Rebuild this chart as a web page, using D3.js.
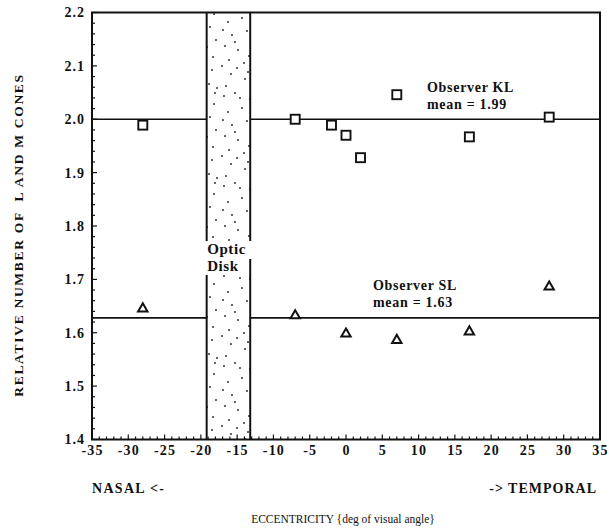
<!DOCTYPE html>
<html><head><meta charset="utf-8">
<script src="https://cdn.jsdelivr.net/npm/d3@7"></script>
<style>
html,body{margin:0;padding:0;background:#fff;}
text{font-family:"Liberation Serif","Times New Roman",serif;font-weight:bold;fill:#111;}
</style></head>
<body><svg id="chart" width="609" height="528"></svg>
<script>
// ---- data ----
const klX = [-28, -7, -2, 0, 2, 7, 17, 28];
const klY = [1.989, 2.0, 1.989, 1.97, 1.928, 2.046, 1.967, 2.004];
const slX = [-28, -7, 0, 7, 17, 28];
const slY = [1.645, 1.632, 1.598, 1.586, 1.602, 1.686];
const klMean = 2.0;
const slMean = 1.628;
const opticDisk = [-19.2, -13.2];
const xTicks = [-35, -30, -25, -20, -15, -10, -5, 0, 5, 10, 15, 20, 25, 30, 35];
const yTicks = [1.4, 1.5, 1.6, 1.7, 1.8, 1.9, 2.0, 2.1, 2.2];

const svg = d3.select("#chart");
const L = 92, R = 600, T = 12.5, B = 439.5;
const x = d3.scaleLinear().domain([-35, 35]).range([L, R]);
const y = d3.scaleLinear().domain([1.4, 2.2]).range([B, T]);

// optic disk stipple pattern (fixed texture)
const defs = svg.append("defs");
const pat = defs.append("pattern").attr("id", "stip").attr("patternUnits", "userSpaceOnUse")
  .attr("width", 44).attr("height", 90);
const dots = [[4,6],[15,3],[30,9],[38,14],[8,22],[22,18],[34,27],[12,35],[27,31],[40,40],
  [5,46],[18,50],[31,47],[9,60],[24,63],[37,57],[15,42],[29,56],[3,30],[20,8],
  [36,70],[11,74],[25,79],[6,86],[33,84],[17,68],[41,88],[28,72],[2,66],[39,3]];
dots.forEach(d => pat.append("circle").attr("cx", d[0]).attr("cy", d[1]).attr("r", 0.95).attr("fill", "#222"));

const gapTop = 241, gapBot = 275;
const ox0 = x(opticDisk[0]), ox1 = x(opticDisk[1]);
svg.append("rect").attr("x", ox0).attr("y", T).attr("width", ox1 - ox0).attr("height", gapTop - T).attr("fill", "url(#stip)");
svg.append("rect").attr("x", ox0).attr("y", gapBot).attr("width", ox1 - ox0).attr("height", B - gapBot).attr("fill", "url(#stip)");

const line = (x1, y1, x2, y2, w) => svg.append("line").attr("x1", x1).attr("y1", y1).attr("x2", x2).attr("y2", y2)
  .attr("stroke", "#111").attr("stroke-width", w || 1.6);
line(ox0, T, ox0, gapTop, 2);
line(ox0, gapBot, ox0, B, 2);
line(ox1, T, ox1, gapTop, 2);
line(ox1, 259, ox1, B, 2);

// mean lines
[klMean, slMean].forEach(m => {
  line(L, y(m), ox0, y(m), 1.7);
  line(ox1, y(m), R, y(m), 1.7);
});

// frame
svg.append("rect").attr("x", L).attr("y", T).attr("width", R - L).attr("height", B - T)
  .attr("fill", "none").attr("stroke", "#111").attr("stroke-width", 2);

// x axis ticks (inward)
const xMinor = d3.range(-35, 35.01, 1);
svg.append("g").selectAll("line").data(xMinor).join("line")
  .attr("x1", d => x(d)).attr("x2", d => x(d))
  .attr("y1", B).attr("y2", d => B - (d % 5 === 0 ? 5 : 3))
  .attr("stroke", "#111").attr("stroke-width", 1.2);
const xAxis = d3.axisBottom(x).tickValues(xTicks).tickSize(0).tickPadding(6).tickFormat(d => String(d));
const gx = svg.append("g").attr("transform", `translate(0,${B})`).call(xAxis);
gx.select(".domain").remove();
gx.selectAll("text").attr("font-size", 14).attr("letter-spacing", 1.2).style("font-family", '"Liberation Serif",serif').style("font-weight", "bold").attr("fill", "#111");

// y axis ticks (inward)
const yMinor = d3.range(0, 41).map(i => 1.4 + i * 0.02);
svg.append("g").selectAll("line").data(yMinor).join("line")
  .attr("y1", d => y(d)).attr("y2", d => y(d))
  .attr("x1", L).attr("x2", (d, i) => L + (i % 5 === 0 ? 5 : 3))
  .attr("stroke", "#111").attr("stroke-width", 1.2);
const yAxis = d3.axisLeft(y).tickValues(yTicks).tickSize(0).tickPadding(7).tickFormat(d3.format(".1f"));
const gy = svg.append("g").attr("transform", `translate(${L},0)`).call(yAxis);
gy.select(".domain").remove();
gy.selectAll("text").attr("font-size", 14).attr("letter-spacing", 1).style("font-family", '"Liberation Serif",serif').style("font-weight", "bold").attr("fill", "#111");

// markers
svg.append("g").selectAll("rect").data(klX.map((v, i) => [v, klY[i]])).join("rect")
  .attr("x", d => x(d[0]) - 4.5).attr("y", d => y(d[1]) - 4.5).attr("width", 9).attr("height", 9)
  .attr("fill", "#fff").attr("stroke", "#111").attr("stroke-width", 1.9);
const tri = d3.symbol().type(d3.symbolTriangle).size(38);
svg.append("g").selectAll("path").data(slX.map((v, i) => [v, slY[i]])).join("path")
  .attr("d", tri).attr("transform", d => `translate(${x(d[0])},${y(d[1])})`)
  .attr("fill", "#fff").attr("stroke", "#111").attr("stroke-width", 2);

// annotations
const txt = (s, tx, ty, size, anchor) => svg.append("text").attr("x", tx).attr("y", ty)
  .attr("font-size", size).attr("text-anchor", anchor || "start").text(s);
txt("Observer KL", 427, 92, 14).attr("letter-spacing", 0.7);
txt("mean = 1.99", 427, 109, 14).attr("letter-spacing", 0.7);
txt("Observer SL", 373, 290, 14).attr("letter-spacing", 0.7);
txt("mean = 1.63", 373, 307, 14).attr("letter-spacing", 0.7);
txt("Optic", ox0 + 0.5, 254, 15).attr("letter-spacing", 0.6);
txt("Disk", ox0 + 0.5, 271, 15).attr("letter-spacing", 0.6);

// axis titles
txt("NASAL <-", 92, 493, 14).attr("letter-spacing", 1.3);
txt("-> TEMPORAL", 597, 493, 14, "end").attr("letter-spacing", 1);
txt("ECCENTRICITY {deg of visual angle}", 343, 523, 11.5, "middle").style("font-weight", "normal");
svg.append("text").attr("transform", `translate(23,235) rotate(-90)`).attr("text-anchor", "middle")
  .attr("font-size", 13.5).attr("letter-spacing", 1.7).text("RELATIVE NUMBER OF  L AND M CONES").style("white-space", "pre");
</script></body></html>
